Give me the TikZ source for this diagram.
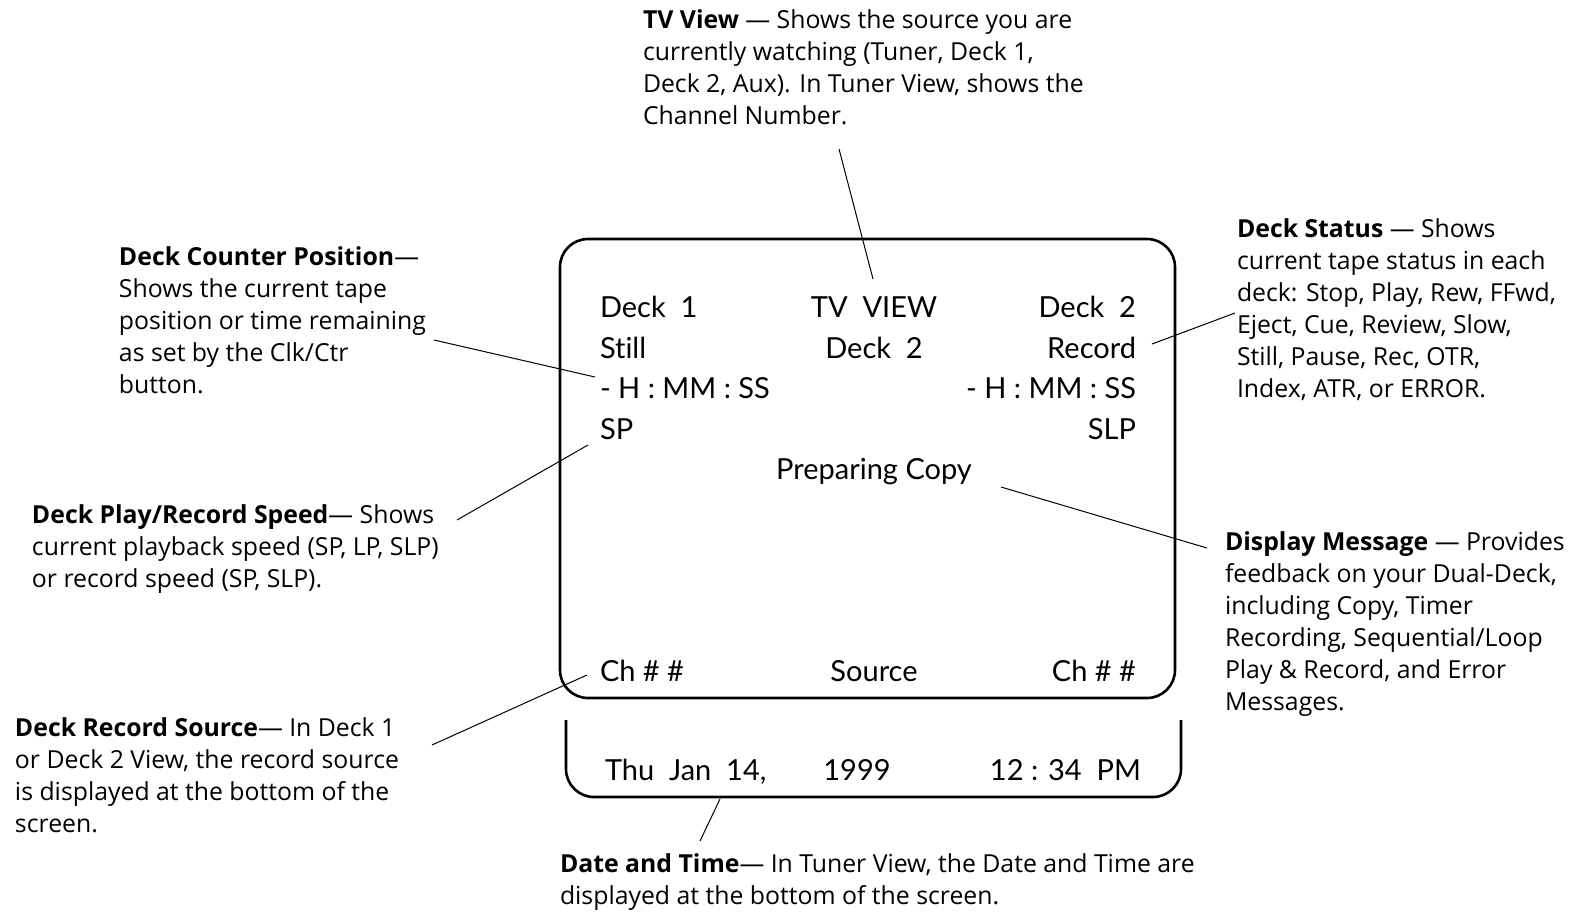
\documentclass[tikz,border=0pt]{standalone}
\usepackage{fontspec}
\setmainfont{Lato}[Ligatures=NoCommon]
\newfontfamily\notefont{Open Sans}
\usetikzlibrary{positioning}

\begin{document}
\begin{tikzpicture}[x=0.5pt, y=-0.5pt,
    every node/.style={inner sep=0pt, outer sep=0pt},
    note/.style={anchor=north west, align=left, font=\notefont\fontsize{12.4}{16}\selectfont},
    scrl/.style={anchor=base west, font=\fontsize{14.5}{17}\selectfont},
    scrc/.style={anchor=base, font=\fontsize{14.5}{17}\selectfont},
    scrr/.style={anchor=base east, font=\fontsize{14.5}{17}\selectfont},
    lead/.style={line width=0.5pt},
    frame/.style={line width=1.3pt, rounded corners=14pt}]
\useasboundingbox (0,0) rectangle (1576,912);

% screen and date panel
\draw[frame] (560,239) rectangle (1175,698);
\draw[frame] (566,720) -- (566,797) -- (1181,797) -- (1181,720);

% screen contents
\node[scrl] (dk1)  at (600,317) {Deck\ \ 1};
\node[scrc] (tv)   at (874,317) {TV\ \ VIEW};
\node[scrr] (dk2)  at (1136,317) {Deck\ \ 2};
\node[scrl] (st1)  at (600,358) {Still};
\node[scrc] (src)  at (874,358) {Deck\ \ 2};
\node[scrr] (st2)  at (1136,358) {Record};
\node[scrl] (ctr1) at (600,398) {- H : MM : SS};
\node[scrr] (ctr2) at (1136,398) {- H : MM : SS};
\node[scrl] (sp1)  at (600,439) {SP};
\node[scrr] (sp2)  at (1136,439) {SLP};
\node[scrc] (msg)  at (874,479) {Preparing Copy};
\node[scrl] (ch1)  at (600,681) {Ch \# \#};
\node[scrc] (rsrc) at (874,681) {Source};
\node[scrr] (ch2)  at (1136,681) {Ch \# \#};
\node[scrl] (day)  at (605,780) {Thu\ \ Jan\ \ 14,};
\node[scrc] (year) at (857,780) {1999};
\node[scrr] (time) at (1141,780) {12 : 34\ \ PM};

% callouts
\node[note] (tvN) at (643,10)
    {\textbf{TV View} — Shows the source you are\\currently watching (Tuner, Deck 1,\\Deck 2, Aux). In Tuner View, shows the\\Channel Number.};
\node[note] (ctrN) at (119,247)
    {\textbf{Deck Counter Position}—\\Shows the current tape\\position or time remaining\\as set by the Clk/Ctr\\button.};
\node[note] (statN) at (1237,219)
    {\textbf{Deck Status} — Shows\\current tape status in each\\deck: Stop, Play, Rew, FFwd,\\Eject, Cue, Review, Slow,\\Still, Pause, Rec, OTR,\\Index, ATR, or ERROR.};
\node[note] (spN) at (32,505)
    {\textbf{Deck Play/Record Speed}— Shows\\current playback speed (SP, LP, SLP)\\or record speed (SP, SLP).};
\node[note] (msgN) at (1225,532)
    {\textbf{Display Message} — Provides\\feedback on your Dual-Deck,\\including Copy, Timer\\Recording, Sequential/Loop\\Play \& Record, and Error\\Messages.};
\node[note] (srcN) at (15,718)
    {\textbf{Deck Record Source}— In Deck 1\\or Deck 2 View, the record source\\is displayed at the bottom of the\\screen.};
\node[note] (dateN) at (560,854)
    {\textbf{Date and Time}— In Tuner View, the Date and Time are\\displayed at the bottom of the screen.};

% leader lines
\coordinate (tvA) at (839,149);   \coordinate (tvB) at (873,279);
\coordinate (ctrA) at (434,340);  \coordinate (ctrB) at (595,377);
\coordinate (statA) at (1235,313); \coordinate (statB) at (1152,344);
\coordinate (spA) at (457,520);   \coordinate (spB) at (588,445);
\coordinate (msgA) at (1207,548); \coordinate (msgB) at (1001,487);
\coordinate (srcA) at (432,745);  \coordinate (srcB) at (587,675);
\coordinate (dateA) at (700,841); \coordinate (dateB) at (720,799);
\draw[lead] (tvA) -- (tvB);
\draw[lead] (ctrA) -- (ctrB);
\draw[lead] (statA) -- (statB);
\draw[lead] (spA) -- (spB);
\draw[lead] (msgA) -- (msgB);
\draw[lead] (srcA) -- (srcB);
\draw[lead] (dateA) -- (dateB);
\end{tikzpicture}
\end{document}
